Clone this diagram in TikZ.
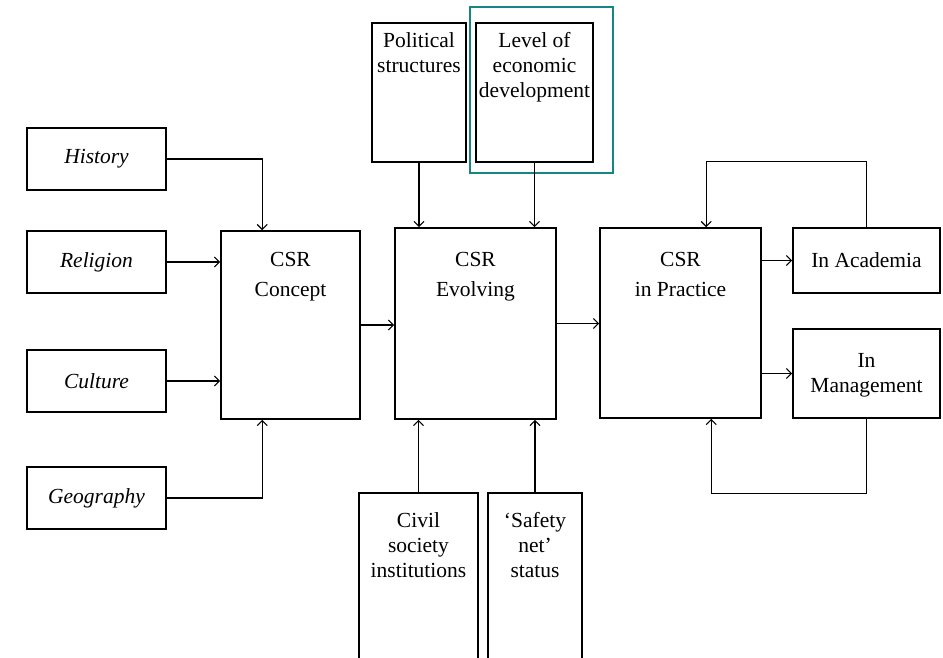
\documentclass[tikz,border=0pt]{standalone}
\usepackage{fontspec}
\setmainfont{Liberation Serif}
\usepackage{tikz}
\usetikzlibrary{arrows.meta,calc}
\definecolor{tealframe}{RGB}{22,134,128}

\begin{document}
\begin{tikzpicture}[x=1pt,y=-1pt,
  box/.style={draw,line width=1.6pt,inner sep=0pt},
  txt/.style={font=\fontsize{21.5}{25}\selectfont,align=center,inner sep=0pt},
  csrtxt/.style={font=\fontsize{21.5}{29.5}\selectfont,align=center,inner sep=0pt},
  arr/.style={line width=1.1pt,-{Straight Barb[length=5pt,width=10pt]}}]
\useasboundingbox (0,0) rectangle (943,657);
\clip (0,0) rectangle (943,657);

% left column
\node[box,txt,minimum width=139pt,minimum height=62pt] (history) at (96.5,159) {\itshape History};
\node[box,txt,minimum width=139pt,minimum height=62pt] (religion) at (96.5,262) {\itshape Religion};
\node[box,txt,minimum width=139pt,minimum height=62pt] (culture) at (96.5,381) {\itshape Culture};
\node[box,txt,minimum width=139pt,minimum height=62pt] (geography) at (96.5,498) {\itshape Geography};

% the three CSR boxes (text base = last line)
\node[box,minimum width=139pt,minimum height=188pt] (concept) at (290.5,325) {};
\node[box,minimum width=161pt,minimum height=191pt] (evolving) at (475.5,323.5) {};
\node[box,minimum width=161pt,minimum height=190pt] (practice) at (680.5,323) {};
\node[csrtxt,anchor=base] (conceptText) at (290.5,296) {CSR\\Concept};
\node[csrtxt,anchor=base] (evolvingText) at (475.5,296) {CSR\\Evolving};
\node[csrtxt,anchor=base] (practiceText) at (680.5,296) {CSR\\in Practice};

% top and bottom influences
\node[box,minimum width=94pt,minimum height=139pt] (political) at (419,92.5) {};
\node[box,minimum width=117pt,minimum height=139pt] (level) at (534.5,92.5) {};
\node[txt,anchor=base] (politicalText) at (419,72) {Political\\structures};
\node[txt,anchor=base] (levelText) at (534.5,97) {Level of\\economic\\development};
\draw[tealframe,line width=1.8pt] (470,7) rectangle (613,173);

\node[box,minimum width=119pt,minimum height=207pt] (civil) at (418.5,596.5) {};
\node[box,minimum width=94pt,minimum height=207pt] (safety) at (535,596.5) {};
\node[txt,anchor=base] (civilText) at (418.5,577) {Civil\\society\\institutions};
\node[txt,anchor=base] (safetyText) at (535,577) {`Safety\\net'\\status};

% right column
\node[box,txt,minimum width=147pt,minimum height=65pt] (academia) at (866.5,260.5) {In Academia};
\node[box,minimum width=147pt,minimum height=89pt] (management) at (866.5,373.5) {};
\node[txt,anchor=base] (managementText) at (866.5,392) {In\\Management};

% connectors
\draw[arr] (history.east) -| ([xshift=42pt]concept.north west);
\draw[arr] (religion.east) -- (religion.east -| concept.west);
\draw[arr] (culture.east) -- (culture.east -| concept.west);
\draw[arr] (geography.east) -| ([xshift=42pt]concept.south west);
\draw[arr] (concept.east) -- (concept.east -| evolving.west);
\draw[arr] (evolving.east) -- (evolving.east -| practice.west);
\draw[arr] (political.south) -- (political.south |- evolving.north);
\draw[arr] (level.south) -- (level.south |- evolving.north);
\draw[arr] (civil.north) -- (civil.north |- evolving.south);
\draw[arr] (safety.north) -- (safety.north |- evolving.south);
\draw[arr] (practice.east |- academia) -- (academia.west);
\draw[arr] (practice.east |- management) -- (management.west);
\draw[arr] (academia.north) -- ++(0,-66) -| ([xshift=107pt]practice.north west);
\draw[arr] (management.south) -- ++(0,75) -| ([xshift=112pt]practice.south west);
\end{tikzpicture}
\end{document}
